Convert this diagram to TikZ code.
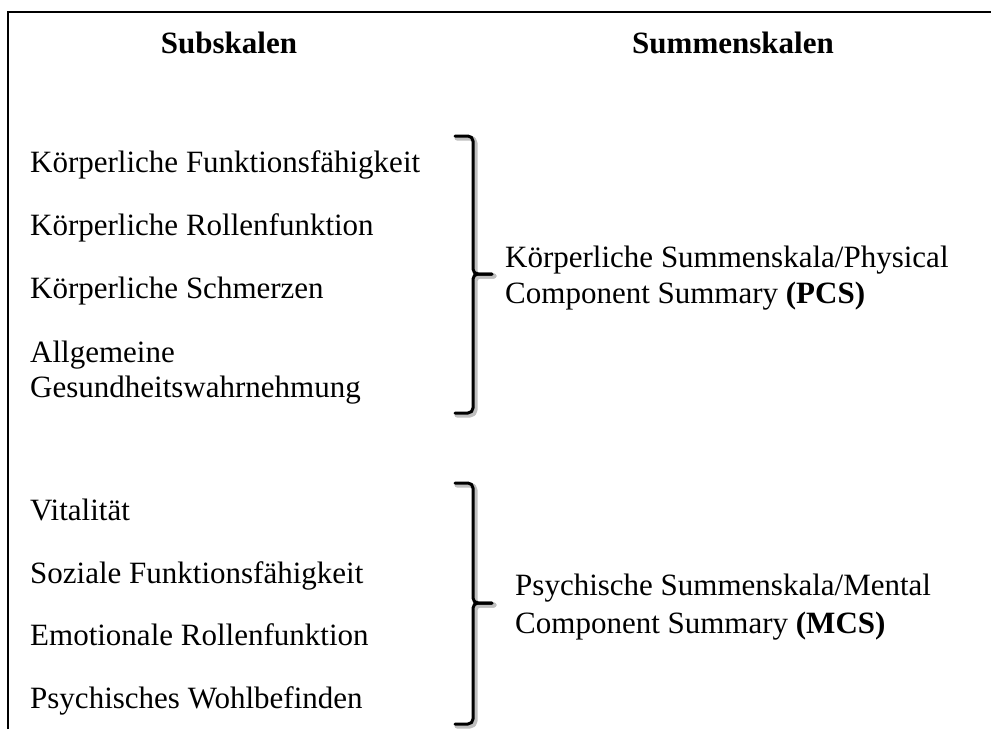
\documentclass[tikz,border=0pt]{standalone}
\usepackage{fontspec}
\setmainfont{Liberation Serif}
\begin{document}
\begin{tikzpicture}[x=1pt,y=-1pt,
  txt/.style={anchor=base west,inner sep=0pt,font=\fontsize{31}{36}\selectfont},
  head/.style={anchor=base,inner sep=0pt,font=\fontsize{31}{36}\selectfont\bfseries},
  frame/.style={line width=2pt,black},
  bracepath/.style={line width=3pt,black,line cap=round,line join=round,rounded corners=5pt},
  braceshadow/.style={line width=5pt,black!25,line cap=round,line join=round,rounded corners=5pt}
]
\useasboundingbox (0,0) rectangle (991,729);
% frame
\coordinate (tl) at (8,12);
\coordinate (tr) at (991,12);
\coordinate (bl) at (8,729);
\draw[frame] (bl) -- (tl) -- (tr);
% headings
\node[head] (h1) at (229,53) {Subskalen};
\node[head] (h2) at (733,53) {Summenskalen};
% left items
\node[txt] (a1) at (30,172) {Körperliche Funktionsfähigkeit};
\node[txt] (a2) at (30,235) {Körperliche Rollenfunktion};
\node[txt] (a3) at (30,298) {Körperliche Schmerzen};
\node[txt] (a4) at (30,362) {Allgemeine};
\node[txt] (a5) at (30,397) {Gesundheitswahrnehmung};
\node[txt] (b1) at (30,520) {Vitalität};
\node[txt] (b2) at (30,583) {Soziale Funktionsfähigkeit};
\node[txt] (b3) at (30,645) {Emotionale Rollenfunktion};
\node[txt] (b4) at (30,708) {Psychisches Wohlbefinden};
% right items
\node[txt] (p1) at (505,267) {Körperliche Summenskala/Physical};
\node[txt] (p2) at (505,303) {Component Summary \textbf{(PCS)}};
\node[txt] (m1) at (515,595) {Psychische Summenskala/Mental};
\node[txt] (m2) at (515,633) {Component Summary \textbf{(MCS)}};
% braces
\foreach \t/\m/\b/\s/\o in {136/274/413/braceshadow/2, 136/274/413/bracepath/0, 483/603/724/braceshadow/2, 483/603/724/bracepath/0}{
  \draw[\s,shift={(\o,\o)}] (455,\t) -- (473,\t) -- (473,\m) -- (492,\m);
  \draw[\s,shift={(\o,\o)}] (492,\m) -- (473,\m) -- (473,\b) -- (455,\b);
}
\end{tikzpicture}
\end{document}
